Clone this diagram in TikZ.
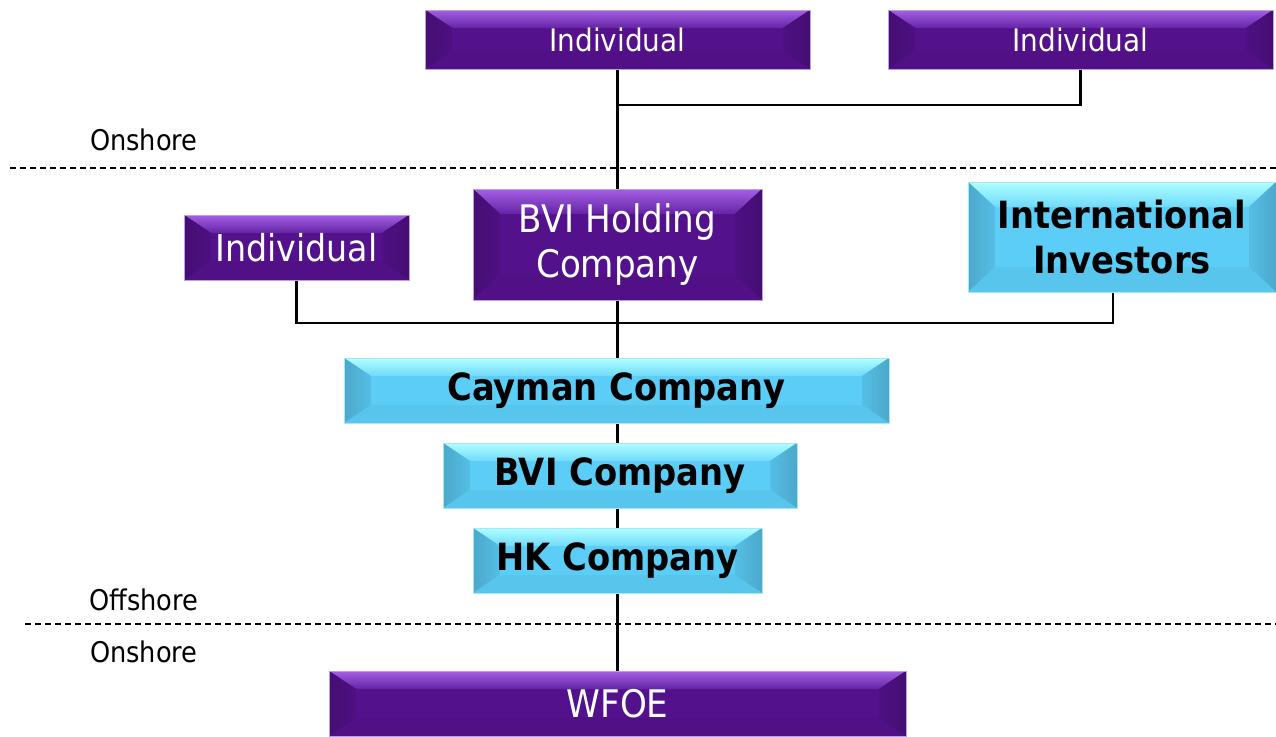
\documentclass[tikz,border=0pt]{standalone}
\usepackage{fontspec}
\setmainfont{DejaVu Sans Condensed}
\usetikzlibrary{backgrounds}
\definecolor{pBase}{RGB}{84,17,140}
\definecolor{pTop}{RGB}{165,95,228}
\definecolor{pTopB}{RGB}{100,36,165}
\definecolor{pEdge}{RGB}{190,160,220}
\definecolor{cBase}{RGB}{92,205,246}
\definecolor{cTop}{RGB}{175,255,255}
\definecolor{cTopB}{RGB}{112,218,250}
\definecolor{cEdge}{RGB}{170,230,250}
\tikzset{
  bevx/.store in=\bevx, bevy/.store in=\bevy, bevx=27, bevy=18,
  bevelbox/.style n args={4}{draw=#4, line width=0.8pt, fill=#1, inner sep=0pt, align=center,
    path picture={
      \coordinate (nw) at (path picture bounding box.north west);
      \coordinate (ne) at (path picture bounding box.north east);
      \coordinate (sw) at (path picture bounding box.south west);
      \coordinate (se) at (path picture bounding box.south east);
      \fill[top color=#2, bottom color=#3] (nw) -- (ne) -- ([xshift=-\bevx pt,yshift=-\bevy pt]ne) -- ([xshift=\bevx pt,yshift=-\bevy pt]nw) -- cycle;
      \fill[left color=#1!82!black, right color=#1!93!black] (nw) -- ([xshift=\bevx pt,yshift=-\bevy pt]nw) -- ([xshift=\bevx pt,yshift=\bevy pt]sw) -- (sw) -- cycle;
      \fill[right color=#1!82!black, left color=#1!93!black] (ne) -- ([xshift=-\bevx pt,yshift=-\bevy pt]ne) -- ([xshift=-\bevx pt,yshift=\bevy pt]se) -- (se) -- cycle;
      \fill[#1!96!black] (sw) -- ([xshift=\bevx pt,yshift=\bevy pt]sw) -- ([xshift=-\bevx pt,yshift=\bevy pt]se) -- (se) -- cycle;
    }},
  pbox/.style={bevelbox={pBase}{pTop}{pTopB}{pEdge}, text=white},
  cbox/.style={bevelbox={cBase}{cTop}{cTopB}{cEdge}, text=black},
  conn/.style={line width=2.5pt, black},
  sep/.style={line width=1.2pt, dash pattern=on 6pt off 4pt},
  zone/.style={font=\fontsize{28.5}{32}\selectfont, anchor=west, inner sep=0pt},
}
\begin{document}
\begin{tikzpicture}[x=1pt,y=-1pt]
\useasboundingbox (0,0) rectangle (1276,736);
% boxes
\node[pbox, minimum width=385pt, minimum height=59pt, font=\fontsize{31}{34}\selectfont] (ind1) at (617.5,39.5) {Individual};
\node[pbox, minimum width=385pt, minimum height=59pt, font=\fontsize{31}{34}\selectfont] (ind2) at (1080.5,39.5) {Individual};
\node[pbox, minimum width=225pt, minimum height=65pt, font=\fontsize{37}{40}\selectfont] (ind3) at (296.5,247.5) {Individual};
\node[pbox, bevy=25, minimum width=289pt, minimum height=111pt, font=\fontsize{38}{45}\selectfont] (bvih) at (617.5,244.5) {BVI Holding\\Company};
\node[cbox, bevy=25, minimum width=308pt, minimum height=110pt, font=\bfseries\fontsize{37.5}{45}\selectfont] (ii) at (1122,237) {International\\Investors};
\node[cbox, minimum width=545pt, minimum height=65pt, font=\bfseries\fontsize{37.5}{40}\selectfont] (cay) at (616.5,390.5) {\raisebox{-3pt}{Cayman Company}};
\node[cbox, minimum width=354pt, minimum height=65pt, font=\bfseries\fontsize{37.5}{40}\selectfont] (bvic) at (620,475.5) {\raisebox{-3pt}{BVI Company}};
\node[cbox, minimum width=289pt, minimum height=65pt, font=\bfseries\fontsize{37.5}{40}\selectfont] (hk) at (617.5,560.5) {\raisebox{-3pt}{HK Company}};
\node[pbox, minimum width=577pt, minimum height=65pt, font=\fontsize{38}{40}\selectfont] (wfoe) at (617.5,703.5) {WFOE};
% zone labels
\node[zone] (on1) at (90,140) {Onshore};
\node[zone] (off) at (89,600) {Offshore};
\node[zone] (on2) at (90,652) {Onshore};
\coordinate (d1a) at (10,168);
\coordinate (d1b) at (1276,168);
\coordinate (d2a) at (25,624);
\coordinate (d2b) at (1276,624);
\coordinate (j1) at (617,105);
\coordinate (j2) at (617,323);
\coordinate (iic) at (1113,292);
\begin{scope}[on background layer]
\draw[sep] (d1a) -- (d1b);
\draw[sep] (d2a) -- (d2b);
\draw[conn] (ind1.south) -- (ind1.south |- wfoe.north);
\draw[conn] (ind2.south) |- (j1);
\draw[conn] (ind3.south) |- (j2) -| (iic);
\end{scope}
\end{tikzpicture}
\end{document}
